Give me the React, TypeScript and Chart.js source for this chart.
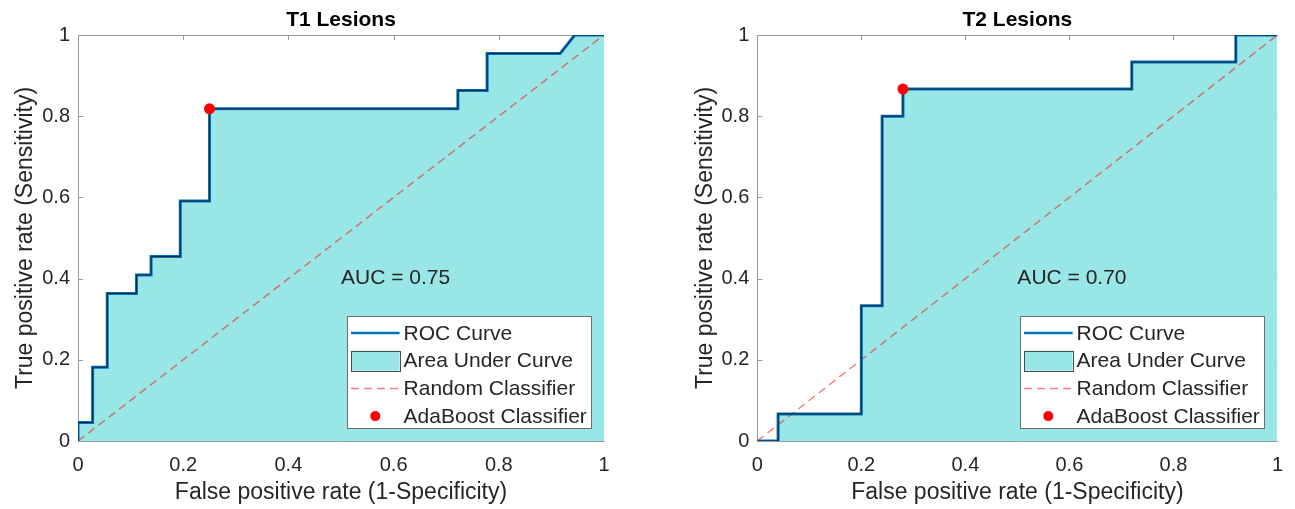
import React, { useEffect, useRef } from "react";
import { Chart, registerables } from "chart.js";
Chart.register(...registerables);

// ---------- data ----------
const t1Fpr = [0, 0, 0.0278, 0.0278, 0.0556, 0.0556, 0.1111, 0.1111, 0.1389, 0.1389, 0.1944, 0.1944, 0.25, 0.25, 0.7222, 0.7222, 0.7778, 0.7778, 0.9167, 0.9444, 1];
const t1Tpr = [0, 0.0455, 0.0455, 0.1818, 0.1818, 0.3636, 0.3636, 0.4091, 0.4091, 0.4545, 0.4545, 0.5909, 0.5909, 0.8182, 0.8182, 0.8636, 0.8636, 0.9545, 0.9545, 1, 1];
const t2Fpr = [0, 0.04, 0.04, 0.2, 0.2, 0.24, 0.24, 0.28, 0.28, 0.72, 0.72, 0.92, 0.92, 1];
const t2Tpr = [0, 0, 0.0667, 0.0667, 0.3333, 0.3333, 0.8, 0.8, 0.8667, 0.8667, 0.9333, 0.9333, 1, 1];
const t1OptFpr = [0.25];
const t1OptTpr = [0.8182];
const t2OptFpr = [0.28];
const t2OptTpr = [0.8667];
const diagX = [0, 1];
const diagY = [0, 1];
const axisTicks = [0, 0.2, 0.4, 0.6, 0.8, 1];
const panelTitles = ["T1 Lesions", "T2 Lesions"];
const aucLabels = ["AUC = 0.75", "AUC = 0.70"];
const aucPos = [0.5, 0.4];
const legendLabels = ["ROC Curve", "Area Under Curve", "Random Classifier", "AdaBoost Classifier"];
const xTitle = "False positive rate (1-Specificity)";
const yTitle = "True positive rate (Sensitivity)";

// ---------- styles ----------
const FONT = '"Liberation Sans", Arial, Helvetica, sans-serif';
const TEXT = "#262626";
const AXIS = "#9a9a9a";
const CYAN = "rgb(153,230,230)";
const BLUE = "#0072BD";
const DIAG = "rgba(255,0,0,0.5)";

const panels = [
  { fpr: t1Fpr, tpr: t1Tpr, ox: t1OptFpr, oy: t1OptTpr, left: 0, width: 647, yAxisW: 78, padRight: 43, yTitlePad: 12.2 },
  { fpr: t2Fpr, tpr: t2Tpr, ox: t2OptFpr, oy: t2OptTpr, left: 647, width: 648, yAxisW: 110.3, padRight: 12.3, yTitlePad: 44.5 },
];

const toPts = (xs: number[], ys: number[]) => xs.map((x, i) => ({ x, y: ys[i] }));

function makeDeco(idx: number) {
  return {
    id: "deco" + idx,
    beforeDatasetsDraw(chart: any) {
      const { ctx, chartArea, scales } = chart;
      const { left, right, top, bottom } = chartArea;
      ctx.save();
      ctx.strokeStyle = AXIS;
      ctx.lineWidth = 1;
      ctx.beginPath();
      ctx.moveTo(left, Math.round(top) + 0.5);
      ctx.lineTo(right, Math.round(top) + 0.5);
      ctx.moveTo(Math.round(right) - 0.5, top);
      ctx.lineTo(Math.round(right) - 0.5, bottom);
      axisTicks.slice(1, -1).forEach((v) => {
        const px = Math.round(scales.x.getPixelForValue(v)) + 0.5;
        ctx.moveTo(px, top);
        ctx.lineTo(px, top + 5);
        ctx.moveTo(px, bottom);
        ctx.lineTo(px, bottom - 5);
        const py = Math.round(scales.y.getPixelForValue(v)) + 0.5;
        ctx.moveTo(left, py);
        ctx.lineTo(left + 5, py);
        ctx.moveTo(right, py);
        ctx.lineTo(right - 5, py);
      });
      ctx.stroke();
      ctx.restore();
    },
    afterDraw(chart: any) {
      const { ctx, chartArea, scales } = chart;
      const { left, right, bottom } = chartArea;
      ctx.save();
      // title
      ctx.fillStyle = "#000";
      ctx.font = `bold 21px ${FONT}`;
      ctx.textAlign = "center";
      ctx.textBaseline = "middle";
      ctx.fillText(panelTitles[idx], (left + right) / 2, 20);
      // AUC text
      ctx.fillStyle = TEXT;
      ctx.font = `21px ${FONT}`;
      ctx.textAlign = "left";
      ctx.fillText(aucLabels[idx], scales.x.getPixelForValue(aucPos[0]), scales.y.getPixelForValue(aucPos[1]));
      // legend
      const lw = 244, lh = 112;
      const bx = Math.round(right - 13 - lw), by = Math.round(bottom - 13 - lh);
      ctx.fillStyle = "#fff";
      ctx.fillRect(bx, by, lw, lh);
      ctx.strokeStyle = "#6e6e6e";
      ctx.lineWidth = 1;
      ctx.strokeRect(bx + 0.5, by + 0.5, lw, lh);
      const sx0 = bx + 4, sx1 = bx + 52.6;
      legendLabels.forEach((lab, i) => {
        const cy = by + 17 + i * 27.7;
        if (i === 0) {
          ctx.strokeStyle = BLUE;
          ctx.lineWidth = 2.5;
          ctx.setLineDash([]);
          ctx.beginPath();
          ctx.moveTo(sx0, cy);
          ctx.lineTo(sx1, cy);
          ctx.stroke();
        } else if (i === 1) {
          ctx.fillStyle = CYAN;
          ctx.fillRect(sx0, cy - 10, sx1 - sx0, 20);
          ctx.strokeStyle = "#4d4d4d";
          ctx.lineWidth = 1;
          ctx.strokeRect(Math.round(sx0) + 0.5, Math.round(cy - 10) + 0.5, Math.round(sx1 - sx0), 20);
        } else if (i === 2) {
          ctx.strokeStyle = DIAG;
          ctx.lineWidth = 1.5;
          ctx.setLineDash([8, 5]);
          ctx.beginPath();
          ctx.moveTo(sx0, cy);
          ctx.lineTo(sx1, cy);
          ctx.stroke();
          ctx.setLineDash([]);
        } else {
          ctx.fillStyle = "#ff0000";
          ctx.beginPath();
          ctx.arc((sx0 + sx1) / 2, cy, 5, 0, Math.PI * 2);
          ctx.fill();
        }
        ctx.fillStyle = TEXT;
        ctx.font = `21px ${FONT}`;
        ctx.textAlign = "left";
        ctx.textBaseline = "middle";
        ctx.fillText(lab, sx1 + 4, cy + 1);
      });
      ctx.restore();
    },
  };
}

function Panel({ idx }: { idx: number }) {
  const ref = useRef<HTMLCanvasElement | null>(null);
  const p = panels[idx];
  useEffect(() => {
    if (!ref.current) return;
    const roc = toPts(p.fpr, p.tpr);
    const chart = new Chart(ref.current, {
      type: "line",
      data: {
        datasets: [
          {
            label: legendLabels[3],
            data: toPts(p.ox, p.oy),
            showLine: false,
            pointRadius: 5.5,
            pointBackgroundColor: "#ff0000",
            pointBorderColor: "#ff0000",
            pointBorderWidth: 0,
          },
          {
            label: "edge",
            data: roc,
            borderColor: "#10243a",
            borderWidth: 1,
            pointRadius: 0,
            fill: false,
          },
          {
            label: legendLabels[0],
            data: roc,
            borderColor: BLUE,
            borderWidth: 3,
            pointRadius: 0,
            fill: false,
          },
          {
            label: legendLabels[2],
            data: toPts(diagX, diagY),
            borderColor: DIAG,
            borderWidth: 1.5,
            borderDash: [8, 5],
            pointRadius: 0,
            fill: false,
          },
          {
            label: legendLabels[1],
            data: roc,
            borderWidth: 0,
            borderColor: "rgba(0,0,0,0)",
            backgroundColor: CYAN,
            pointRadius: 0,
            fill: "origin",
          },
        ],
      },
      options: {
        animation: false,
        responsive: false,
        maintainAspectRatio: false,
        layout: { padding: { left: 0, top: 35, right: p.padRight, bottom: 0 } },
        plugins: { legend: { display: false }, title: { display: false }, tooltip: { enabled: false } },
        elements: { line: { tension: 0 } },
        scales: {
          x: {
            type: "linear",
            min: 0,
            max: 1,
            afterBuildTicks: (s: any) => {
              s.ticks = axisTicks.map((v) => ({ value: v }));
            },
            afterFit: (s: any) => {
              s.height = 68;
            },
            grid: { display: false, drawTicks: false },
            border: { display: true, color: AXIS, width: 1 },
            ticks: {
              padding: 12,
              maxRotation: 0,
              autoSkip: false,
              color: TEXT,
              font: { family: FONT, size: 20 },
              callback: (v: any) => String(Math.round(Number(v) * 10) / 10),
            },
            title: { display: true, text: xTitle, color: TEXT, font: { family: FONT, size: 23 }, padding: { top: 0, bottom: 3 } },
          },
          y: {
            type: "linear",
            min: 0,
            max: 1,
            afterBuildTicks: (s: any) => {
              s.ticks = axisTicks.map((v) => ({ value: v }));
            },
            afterFit: (s: any) => {
              s.width = p.yAxisW;
            },
            grid: { display: false, drawTicks: false },
            border: { display: true, color: AXIS, width: 1 },
            ticks: {
              padding: 8,
              color: TEXT,
              font: { family: FONT, size: 20 },
              callback: (v: any) => String(Math.round(Number(v) * 10) / 10),
            },
            title: { display: true, text: yTitle, color: TEXT, font: { family: FONT, size: 23 }, padding: { top: p.yTitlePad, bottom: 0 } },
          },
        },
      },
      plugins: [makeDeco(idx)],
    } as any);
    return () => chart.destroy();
  }, []);
  return (
    <canvas
      ref={ref}
      width={p.width}
      height={509}
      style={{ position: "absolute", left: p.left, top: 0, width: p.width, height: 509 }}
    />
  );
}

export default function App() {
  return (
    <div style={{ position: "fixed", left: 0, top: 0, width: 1295, height: 509, background: "#fff" }}>
      <Panel idx={0} />
      <Panel idx={1} />
    </div>
  );
}
